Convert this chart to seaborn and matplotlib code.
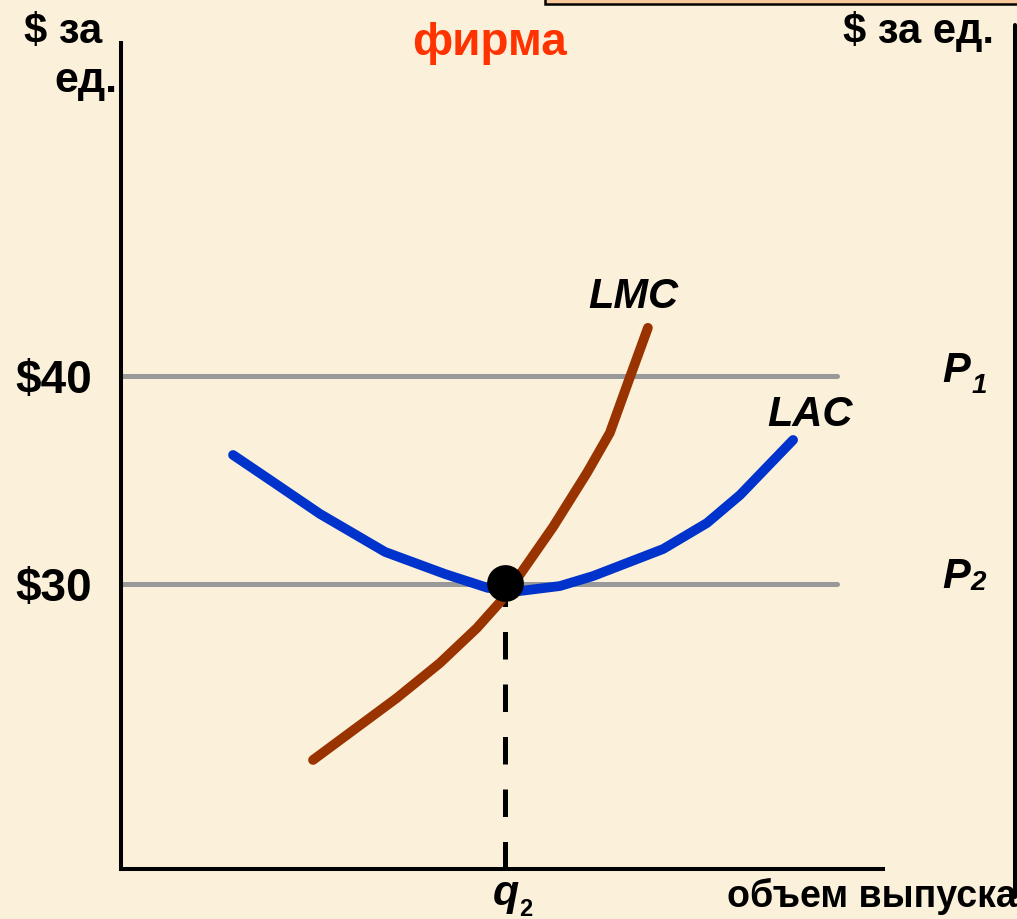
import matplotlib
matplotlib.use("Agg")
import matplotlib.pyplot as plt
import seaborn as sns
import pandas as pd
from matplotlib.patches import Rectangle
from matplotlib.lines import Line2D


# Кривые долгосрочных издержек фирмы (объем выпуска, $ за ед.)
lac_q = [2.94, 3.91, 5.22, 6.93, 8.50, 9.63, 10.47, 11.52, 12.39, 14.23, 15.38, 16.25, 16.96, 17.64]
lac_p = [36.20, 35.00, 33.37, 31.54, 30.48, 29.81, 29.66, 29.90, 30.38, 31.68, 32.93, 34.28, 35.63, 36.92]
lmc_q = [5.04, 7.24, 8.37, 9.34, 9.95, 10.50, 11.34, 12.23, 12.83, 13.36, 13.83]
lmc_p = [21.54, 24.52, 26.20, 27.88, 29.13, 30.53, 32.74, 35.34, 37.26, 39.95, 42.31]

# Уровни цен
prices = [40, 30]
price_labels = ["$40", "$30"]
price_subs = ["1", "2"]
q_end = 18.8

# Точка равновесия
q_eq = 10.08
p_eq = 30.05

W, H = 1017, 919
bg = "#FBF0DA"


def fx(px):
    return px / W


def fy(py):
    return 1 - py / H


sns.set_style("white")
plt.rcParams['font.family'] = ['Liberation Sans', 'DejaVu Sans']
plt.rcParams['text.color'] = 'black'

fig = plt.figure(figsize=(W / 100, H / 100), dpi=100)
fig.patch.set_facecolor(bg)
ax = fig.add_axes([fx(121), fy(869), (883 - 121) / W, (869 - 43) / H])
ax.set_facecolor(bg)

# Горизонтальные линии цен
for p in prices:
    sns.lineplot(x=[0, q_end], y=[p, p], color="#999999", linewidth=3.6, ax=ax)

# Пунктир от точки равновесия
ax.plot([q_eq, q_eq], [16.3, p_eq], color="black", linewidth=3.6,
        dashes=(5.5, 5), solid_capstyle="butt")

lac = pd.DataFrame({"q": lac_q, "p": lac_p})
lmc = pd.DataFrame({"q": lmc_q, "p": lmc_p})
sns.lineplot(data=lac, x="q", y="p", sort=False, color="#0033CC", linewidth=7,
             solid_capstyle="round", solid_joinstyle="round", ax=ax)
sns.lineplot(data=lmc, x="q", y="p", sort=False, color="#993300", linewidth=7,
             solid_capstyle="round", solid_joinstyle="round", ax=ax)

sns.scatterplot(x=[q_eq], y=[p_eq], s=600, color="black", edgecolor="black",
                zorder=5, ax=ax)

ax.set_xlim(0, 20)
ax.set_ylim(16.3, 56.0)
ax.set_xticks([])
ax.set_yticks(prices)
ax.set_yticklabels(price_labels, fontsize=33, fontweight="bold", color="black")
ax.tick_params(axis="y", length=0, pad=21)
ax.set_xlabel("")
ax.set_ylabel("")
for s in ["top", "right"]:
    ax.spines[s].set_visible(False)
for s in ["left", "bottom"]:
    ax.spines[s].set_color("black")
    ax.spines[s].set_linewidth(2.9)

fig.text(fx(24), fy(43), "$ за", fontsize=30, ha="left", va="baseline", fontweight="bold", color="black")
fig.text(fx(54), fy(92), "ед.", fontsize=31, ha="left", va="baseline", fontweight="bold", color="black")
fig.text(fx(489), fy(55), "фирма", fontsize=33, ha="center", va="baseline",
         fontweight="bold", color="#FF3300")
fig.text(fx(843), fy(43), "$ за ед.", fontsize=30, ha="left", va="baseline", fontweight="bold", color="black")
fig.text(fx(727), fy(907), "объем выпуска", fontsize=27, ha="left", va="baseline",
         fontweight="bold", color="black")

fig.text(fx(588), fy(308), "LMC", fontsize=30, ha="left", va="baseline",
         fontweight="bold", fontstyle="italic", color="black")
fig.text(fx(767), fy(426), "LAC", fontsize=30, ha="left", va="baseline",
         fontweight="bold", fontstyle="italic", color="black")

# P1, P2
for base_y, sub_x, sub_y, sub in [(382, 972, 393, price_subs[0]), (588, 970, 590, price_subs[1])]:
    fig.text(fx(942), fy(base_y), "P", fontsize=30, ha="left", va="baseline",
             fontweight="bold", fontstyle="italic", color="black")
    fig.text(fx(sub_x), fy(sub_y), sub, fontsize=20, ha="left", va="baseline",
             fontweight="bold", fontstyle="italic", color="black")

# q2
fig.text(fx(493), fy(905), "q", fontsize=31, ha="left", va="baseline",
         fontweight="bold", fontstyle="italic", color="black")
fig.text(fx(519), fy(916), "2", fontsize=17, ha="left", va="baseline",
         fontweight="bold", color="black")

# Ось соседнего графика справа и рамка сверху
fig.add_artist(Line2D([fx(1015), fx(1015)], [fy(25), fy(897)], color="black", linewidth=2.9))
fig.add_artist(Rectangle((fx(545), fy(4)), 1, 0.05, facecolor="#F9C89A",
                         edgecolor="black", linewidth=1.8, transform=fig.transFigure))

plt.savefig("out.png", dpi=100, facecolor=bg)
